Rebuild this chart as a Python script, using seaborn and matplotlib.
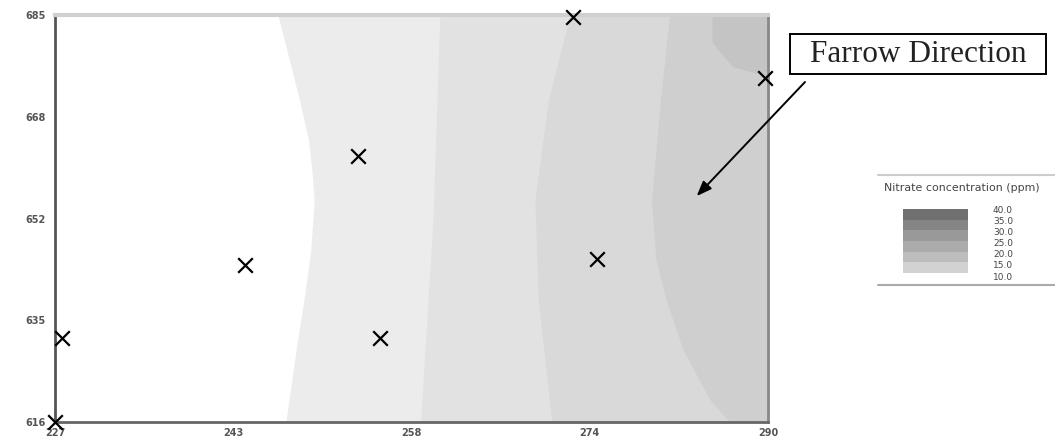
import numpy as np
import pandas as pd
import matplotlib
matplotlib.use("Agg")
import matplotlib.pyplot as plt
from matplotlib.lines import Line2D
from matplotlib.patches import Rectangle
import seaborn as sns

# ---------------- data ----------------
x_ticks = [227, 242.75, 258.5, 274.25, 290]
x_tick_labels = ["227", "243", "258", "274", "290"]
y_ticks = [616, 633.25, 650.5, 667.75, 685]
y_tick_labels = ["616", "635", "652", "668", "685"]

# sampling wells (x marks)
well_x = [227.6, 227.0, 243.8, 253.8, 255.7, 272.8, 274.9, 289.7]
well_y = [630.2, 616.0, 642.6, 661.1, 630.2, 684.7, 643.6, 674.3]

# contour boundaries (x position at given y)
bA_y = [685, 677.4, 670.6, 663.8, 658.7, 653.6, 645.2, 636.7, 628.2, 616]
bA_x = [246.7, 247.7, 248.6, 249.4, 249.7, 249.9, 249.6, 249.0, 248.3, 247.4]
bB_y = [685, 650.5, 616]
bB_x = [261.0, 260.4, 259.3]
bC_y = [685, 670.6, 653.6, 636.7, 616]
bC_x = [272.5, 270.6, 269.4, 269.7, 270.9]
bD_y = [685, 670.6, 653.6, 643.5, 636.7, 628.2, 619.7, 616]
bD_x = [281.3, 280.5, 279.7, 280.1, 281.0, 282.5, 284.9, 286.6]
corner_y = [685, 680.3, 676.2, 674.5]
corner_x = [285.1, 285.1, 286.9, 290.0]
band_colors = ["#ececec", "#e2e2e2", "#d9d9d9", "#cfcfcf", "#c4c4c4"]

legend_levels = [10.0, 15.0, 20.0, 25.0, 30.0, 35.0, 40.0]
legend_colors = ["#d2d2d2", "#bdbdbd", "#ababab", "#999999", "#858585", "#707070"]

# ---------------- figure ----------------
sns.set_style("white")
plt.rcParams["font.family"] = ["DejaVu Sans"]

W, H = 1055, 444
fig = plt.figure(figsize=(W / 100, H / 100), dpi=100)
ax = fig.add_axes([55 / W, 1 - 422 / H, 713 / W, 407 / H])

xmin, xmax = x_ticks[0], x_ticks[-1]
ymin, ymax = y_ticks[0], y_ticks[-1]

# contour bands, layered from left to right
for by, bx, col in zip([bA_y, bB_y, bC_y, bD_y], [bA_x, bB_x, bC_x, bD_x], band_colors[:4]):
    ax.fill_betweenx(by, bx, xmax, color=col, lw=0, zorder=1)
ax.fill(corner_x + [xmax], corner_y + [ymax], color=band_colors[4], lw=0, zorder=1)

df = pd.DataFrame({"x": well_x, "y": well_y})
sns.scatterplot(data=df, x="x", y="y", marker="x", s=110, color="black",
                linewidth=1.6, ax=ax, zorder=5, clip_on=False)

ax.set_xlim(xmin, xmax)
ax.set_ylim(ymin, ymax)
ax.set_xlabel("")
ax.set_ylabel("")
ax.set_xticks(x_ticks)
ax.set_xticklabels(x_tick_labels)
ax.set_yticks(y_ticks)
ax.set_yticklabels(y_tick_labels)
ax.set_xticks(np.linspace(xmin, xmax, 13), minor=True)
ax.set_yticks(np.linspace(ymin, ymax, 13), minor=True)
ax.tick_params(axis="both", which="major", labelsize=7, labelcolor="#555555",
               color="#555555", width=1)
ax.tick_params(axis="x", which="major", direction="inout", length=5, pad=2)
ax.tick_params(axis="y", which="major", direction="out", length=5, pad=2)
ax.tick_params(axis="both", which="minor", direction="in", length=3,
               color="#666666", width=1)
for lab in ax.get_xticklabels() + ax.get_yticklabels():
    lab.set_fontweight("bold")

ax.spines["left"].set_color("#555555")
ax.spines["left"].set_linewidth(2)
ax.spines["bottom"].set_color("#666666")
ax.spines["bottom"].set_linewidth(2)
ax.spines["top"].set_color("#d0d0d0")
ax.spines["top"].set_linewidth(3)
ax.spines["right"].set_color("#888888")
ax.spines["right"].set_linewidth(2)

# Farrow direction annotation
fig.add_artist(Rectangle((790 / W, 1 - 74 / H), 256 / W, 40 / H, transform=fig.transFigure,
                         fc="white", ec="black", lw=1.4))
fig.text(918 / W, 1 - 55 / H, "Farrow Direction", ha="center", va="center",
         fontsize=22.5, family=["Liberation Serif", "DejaVu Serif"], color="#222222")
ax.annotate("", xy=(283.7, 654.3), xycoords="data",
            xytext=(805 / W, 1 - 82 / H), textcoords="figure fraction",
            arrowprops=dict(arrowstyle="-|>,head_length=0.9,head_width=0.35",
                            color="black", lw=1.4, shrinkA=0, shrinkB=0))

# legend panel
fig.add_artist(Line2D([878 / W, 1.0], [1 - 175 / H] * 2, color="#cccccc", lw=1.5))
fig.add_artist(Line2D([878 / W, 1.0], [1 - 285 / H] * 2, color="#aaaaaa", lw=1.5))
fig.text(884 / W, 1 - 188 / H, "Nitrate concentration (ppm)", ha="left", va="center",
         fontsize=7.9, color="#444444")
lax = fig.add_axes([903 / W, 1 - 273 / H, 65 / W, 64 / H])
for i, col in enumerate(legend_colors):
    lax.axhspan(legend_levels[i], legend_levels[i + 1], color=col, lw=0)
lax.set_ylim(legend_levels[0], legend_levels[-1])
lax.set_xlim(0, 1)
lax.axis("off")
for i, lv in enumerate(legend_levels[::-1]):
    fig.text(993 / W, 1 - (210 + i * 11.2) / H, f"{lv:.1f}", ha="left", va="center",
             fontsize=6.5, color="#444444")

fig.savefig("out.png", dpi=100)
